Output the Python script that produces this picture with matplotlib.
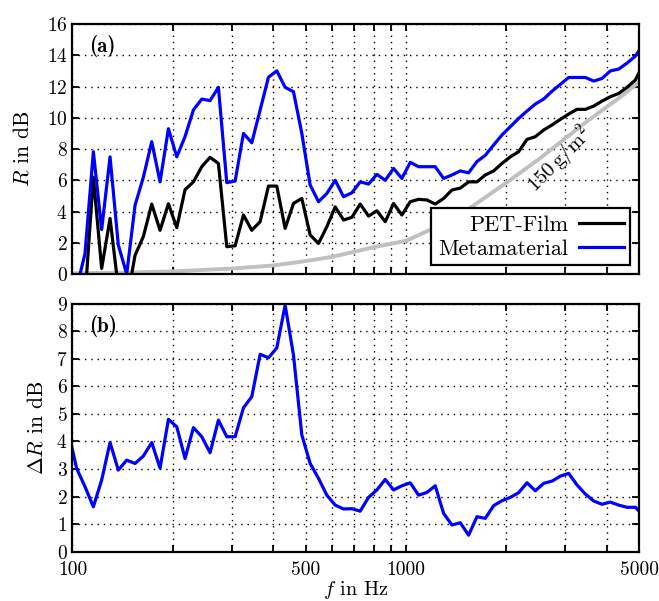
import matplotlib
matplotlib.use('Agg')
import matplotlib.pyplot as plt
import numpy as np

plt.rcParams['font.family'] = 'cmr10'
plt.rcParams['mathtext.fontset'] = 'cm'
plt.rcParams['axes.formatter.use_mathtext'] = True
plt.rcParams['font.size'] = 14


# ------------------------------------ Data ---------------------------------------
freq = [97.2, 102.9, 109.0, 115.5, 122.3, 129.6, 137.2, 145.4, 154.0, 163.1,
        172.8, 183.0, 193.9, 205.4, 217.5, 230.4, 244.1, 258.5, 273.8, 290.1,
        307.3, 325.5, 344.7, 365.2, 386.8, 409.7, 434.0, 459.7, 487.0, 515.8,
        546.4, 578.8, 613.1, 649.4, 687.9, 728.6, 771.8, 817.5, 866.0, 917.3,
        971.6, 1029.2, 1090.2, 1154.8, 1223.2, 1295.7, 1372.5, 1453.8, 1539.9, 1631.2,
        1727.8, 1830.2, 1938.7, 2053.5, 2175.2, 2304.1, 2440.6, 2585.2, 2738.4, 2900.7,
        3072.6, 3254.6, 3447.5, 3651.7, 3868.1, 4097.3, 4340.1, 4597.3, 4869.7, 5158.2]

meta = [-2.0, -0.9, 1.3, 7.83, 2.85, 7.5, 1.86, 0.0, 4.4, 6.2,
        8.47, 5.9, 9.3, 7.5, 8.8, 10.5, 11.2, 11.1, 11.95, 5.85,
        5.95, 9.0, 8.4, 10.5, 12.6, 13.0, 11.95, 11.67, 9.0, 5.7,
        4.63, 5.16, 6.0, 4.95, 5.2, 5.9, 5.76, 6.38, 6.0, 6.76,
        6.12, 7.15, 6.87, 6.87, 6.87, 6.12, 6.34, 6.6, 6.48, 7.2,
        7.6, 8.26, 8.9, 9.43, 9.96, 10.43, 10.88, 11.2, 11.7, 12.14,
        12.58, 12.58, 12.58, 12.35, 12.52, 13.0, 13.12, 13.5, 13.95, 14.75]

pet = [-2.5, -2.0, -1.55, 6.2, 0.36, 3.56, -0.9, -1.8, 1.2, 2.4,
       4.48, 2.8, 4.5, 2.97, 5.4, 5.9, 6.87, 7.47, 7.08, 1.75,
       1.81, 3.78, 2.8, 3.35, 5.63, 5.63, 2.92, 4.52, 4.84, 2.5,
       1.96, 3.03, 4.3, 3.46, 3.63, 4.48, 3.71, 4.05, 3.35, 4.52,
       3.78, 4.63, 4.78, 4.74, 4.48, 4.84, 5.38, 5.5, 5.9, 5.9,
       6.34, 6.6, 7.08, 7.5, 7.83, 8.62, 8.79, 9.22, 9.54, 9.9,
       10.24, 10.54, 10.54, 10.75, 11.07, 11.35, 11.56, 11.95, 12.42, 13.5]

delta = [4.36, 3.02, 2.36, 1.63, 2.6, 3.96, 2.96, 3.32, 3.2, 3.47,
         3.96, 3.03, 4.8, 4.53, 3.38, 4.5, 4.17, 3.59, 4.77, 4.17,
         4.17, 5.22, 5.62, 7.16, 7.03, 7.39, 8.94, 7.13, 4.23, 3.2,
         2.66, 2.05, 1.69, 1.55, 1.56, 1.47, 1.97, 2.24, 2.62, 2.24,
         2.39, 2.5, 2.05, 2.15, 2.39, 1.39, 0.97, 1.05, 0.6, 1.27,
         1.21, 1.67, 1.85, 1.97, 2.14, 2.5, 2.21, 2.48, 2.56, 2.74,
         2.84, 2.42, 2.09, 1.84, 1.72, 1.8, 1.69, 1.61, 1.61, 1.3]

# mass law 150 g/m^2
freq_ml = [100, 150, 200, 300, 400, 500, 600, 700, 800, 1000,
           1200, 1500, 2000, 2500, 3000, 3500, 4000, 4500, 5000]
r_ml = [0.05, 0.1, 0.17, 0.35, 0.55, 0.83, 1.1, 1.43, 1.72, 2.13,
        2.9, 4.0, 5.85, 7.35, 8.68, 9.8, 10.7, 11.5, 12.3]

xticks = [100, 200, 300, 400, 500, 600, 700, 800, 900, 1000, 2000, 3000, 4000, 5000]
xlabels = ['100', '', '', '', '500', '', '', '', '', '1000', '', '', '', '5000']


# ------------------------------------ Plot ---------------------------------------
def styl(ax, yticks):
  ax.set_xscale('log')
  ax.set_xlim(100, 5000)
  ax.set_xticks(xticks)
  ax.xaxis.set_minor_locator(matplotlib.ticker.NullLocator())
  ax.set_yticks(yticks)
  ax.set_ylim(yticks[0], yticks[-1])
  ax.grid(True, linestyle=(0, (1, 3.5)), color='black', linewidth=1.0)
  ax.tick_params(direction='in', top=True, right=True, length=5, width=1.3,
                 labelsize=14)
  ax.tick_params(axis='x', pad=7)
  for s in ax.spines.values():
    s.set_linewidth(1.6)


fig = plt.figure(figsize=(6.59, 6.01), dpi=100)
ax1 = fig.add_axes([0.110, 0.544, 0.860, 0.416])
ax2 = fig.add_axes([0.110, 0.082, 0.860, 0.413])

ax1.plot(freq_ml, r_ml, color='#c0c0c0', linewidth=2.8)
ax1.plot(freq, pet, color='black', linewidth=2.3, label='PET-Film')
ax1.plot(freq, meta, color='#0000ff', linewidth=2.3, label='Metamaterial')
styl(ax1, np.arange(0, 17, 2))
ax1.set_xticklabels([''] * len(xticks))
ax1.set_ylabel(r'$R$ in dB', fontsize=15.5, labelpad=10)
ax1.text(0.03, 0.955, '(a)', family='cmb10', transform=ax1.transAxes,
         fontsize=15, va='top')
ax1.text(2880, 7.3, r'$150\,\mathrm{g/m^2}$', rotation=45, fontsize=15,
         ha='center', va='center')
leg = ax1.legend(loc='lower right', markerfirst=False, fancybox=False, framealpha=1,
                 edgecolor='black', fontsize=16, borderaxespad=0.4, handlelength=2.0,
                 borderpad=0.3, labelspacing=0.2, handletextpad=0.5)
leg.get_frame().set_linewidth(1.6)

ax2.plot(freq, delta, color='#0000ff', linewidth=2.3)
styl(ax2, np.arange(0, 10, 1))
ax2.set_xticklabels(xlabels)
ax2.set_ylabel(r'$\Delta R$ in dB', fontsize=15.5, labelpad=7)
ax2.set_xlabel(r'$f$ in Hz', fontsize=14.5, labelpad=0)
ax2.text(0.03, 0.955, '(b)', family='cmb10', transform=ax2.transAxes,
         fontsize=15, va='top')

plt.savefig('out.png', dpi=100)
